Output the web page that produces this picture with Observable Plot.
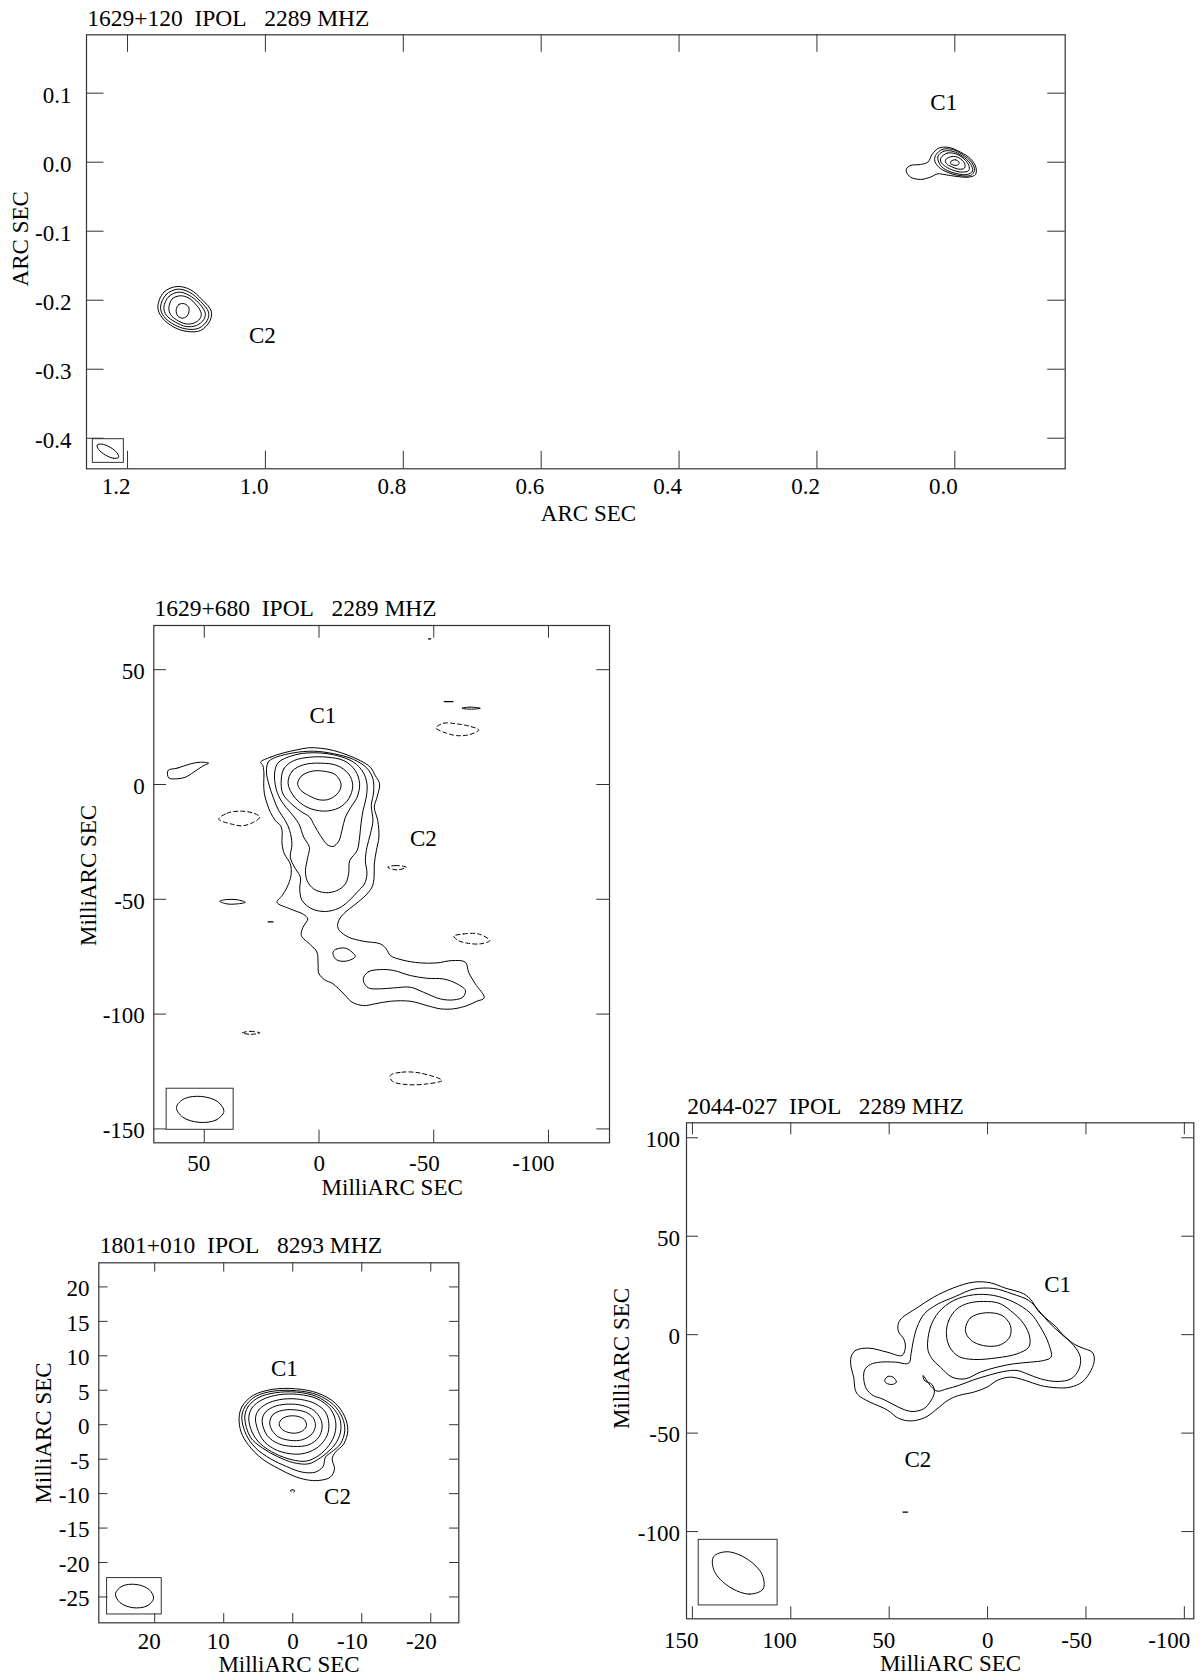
<!DOCTYPE html>
<html>
<head>
<meta charset="utf-8">
<script src="https://cdn.jsdelivr.net/npm/d3@7"></script>
<script src="https://cdn.jsdelivr.net/npm/@observablehq/plot@0.6"></script>
<style>
  body { margin: 0; background: #fff; }
  #page { position: relative; width: 1202px; height: 1680px; overflow: hidden; background: #fff; }
  #page svg { position: absolute; }
</style>
</head>
<body>
<div id="page"></div>
<script>
// ---------- 1629+120 (arcsec) ----------
const a_title = "1629+120\u00a0\u00a0IPOL\u00a0\u00a0\u00a02289 MHZ";
const a_xTicks = [1.2, 1.0, 0.8, 0.6, 0.4, 0.2, 0.0];
const a_yTicks = [0.1, 0.0, -0.1, -0.2, -0.3, -0.4];
const a_labels = [[0.016, 0.087, "C1"], [1.0045, -0.251, "C2"]];
const a_c2 = [
  [[1.1560,-0.2101],[1.1473,-0.1883],[1.1279,-0.1801],[1.1086,-0.1849],[1.0917,-0.1994],[1.0786,-0.2158],[1.0806,-0.2303],[1.0941,-0.2439],[1.1134,-0.2453],[1.1328,-0.2390],[1.1497,-0.2255]],
  [[1.1521,-0.2101],[1.1439,-0.1917],[1.1270,-0.1840],[1.1096,-0.1888],[1.0941,-0.2018],[1.0825,-0.2173],[1.0844,-0.2294],[1.0965,-0.2405],[1.1134,-0.2419],[1.1318,-0.2357],[1.1473,-0.2236]],
  [[1.1473,-0.2101],[1.1400,-0.1946],[1.1255,-0.1883],[1.1110,-0.1927],[1.0965,-0.2043],[1.0873,-0.2183],[1.0893,-0.2279],[1.0999,-0.2366],[1.1149,-0.2381],[1.1304,-0.2318],[1.1439,-0.2216]],
  [[1.1400,-0.2110],[1.1352,-0.1980],[1.1231,-0.1936],[1.1110,-0.1970],[1.1004,-0.2067],[1.0931,-0.2187],[1.0951,-0.2270],[1.1038,-0.2332],[1.1159,-0.2342],[1.1289,-0.2284],[1.1376,-0.2207]],
  [[1.1294,-0.2139],[1.1255,-0.2062],[1.1173,-0.2052],[1.1110,-0.2110],[1.1125,-0.2212],[1.1192,-0.2260],[1.1270,-0.2231]]
];
const a_c1 = [
  [[0.0701,-0.0096],[0.0643,-0.0047],[0.0498,-0.0033],[0.0391,0.0001],[0.0329,0.0112],[0.0232,0.0204],[0.0087,0.0214],[-0.0082,0.0146],[-0.0227,0.0049],[-0.0305,-0.0072],[-0.0300,-0.0178],[-0.0203,-0.0216],[-0.0034,-0.0207],[0.0159,-0.0178],[0.0246,-0.0168],[0.0353,-0.0216],[0.0498,-0.0250],[0.0643,-0.0216],[0.0701,-0.0144]],
  [[0.0280,0.0098],[0.0184,0.0185],[0.0039,0.0185],[-0.0107,0.0112],[-0.0242,0.0001],[-0.0285,-0.0120],[-0.0227,-0.0192],[-0.0058,-0.0192],[0.0111,-0.0144],[0.0232,-0.0072],[0.0290,0.0015]],
  [[0.0246,0.0083],[0.0159,0.0160],[0.0024,0.0156],[-0.0107,0.0088],[-0.0227,-0.0023],[-0.0256,-0.0129],[-0.0179,-0.0178],[-0.0034,-0.0168],[0.0111,-0.0120],[0.0208,-0.0047]],
  [[0.0201,0.0064],[0.0111,0.0131],[-0.0010,0.0122],[-0.0131,0.0049],[-0.0203,-0.0047],[-0.0203,-0.0120],[-0.0107,-0.0144],[0.0014,-0.0120],[0.0135,-0.0062],[0.0201,0.0001]],
  [[0.0135,0.0035],[0.0039,0.0083],[-0.0058,0.0064],[-0.0140,-0.0014],[-0.0140,-0.0086],[-0.0058,-0.0101],[0.0053,-0.0062],[0.0121,-0.0023]],
  [[0.0053,0.0015],[-0.0010,0.0035],[-0.0063,-0.0004],[-0.0049,-0.0038],[0.0014,-0.0043],[0.0063,-0.0018]]
];
const a_beamBox = [1.2503, 1.2053, -0.4014, -0.4357];
const a_beam = [[1.2129,-0.4278],[1.2198,-0.4291],[1.2318,-0.4245],[1.2418,-0.4164],[1.2441,-0.4098],[1.2372,-0.4085],[1.2252,-0.4131],[1.2152,-0.4212]];

// ---------- 1629+680 (mas) ----------
const b_title = "1629+680\u00a0\u00a0IPOL\u00a0\u00a0\u00a02289 MHZ";
const b_xTicks = [50, 0, -50, -100];
const b_yTicks = [50, 0, -50, -100, -150];
const b_labels = [[-1.7, 29.8, "C1"], [-45.5, -23.7, "C2"]];
const b_pos = [
  [[25.5,9.7],[21.2,11.9],[15.4,13.8],[9.6,15.1],[4.5,16.0],[-0.6,15.8],[-6.4,14.8],[-12.2,12.9],[-18.0,10.4],[-22.4,7.5],[-24.5,3.9],[-26.4,0.3],[-25.3,-5.5],[-24.1,-9.9],[-25.6,-15.7],[-26.1,-22.9],[-25.0,-28.8],[-24.1,-34.6],[-24.0,-40.4],[-23.1,-44.7],[-19.5,-49.1],[-15.1,-52.7],[-11.5,-55.6],[-9.0,-58.5],[-8.1,-61.4],[-8.9,-63.6],[-12.9,-66.5],[-19.5,-68.3],[-26.7,-69.4],[-29.3,-71.6],[-31.1,-74.5],[-36.2,-76.4],[-44.1,-77.7],[-51.4,-77.7],[-57.9,-76.7],[-63.8,-77.4],[-65.2,-81.8],[-68.1,-86.8],[-72.0,-92.9],[-68.8,-94.4],[-64.5,-96.3],[-58.7,-97.7],[-52.9,-97.7],[-47.1,-96.3],[-39.8,-94.4],[-31.1,-94.4],[-24.5,-95.5],[-19.5,-96.3],[-14.4,-94.8],[-11.5,-91.9],[-8.6,-89.0],[-5.7,-86.5],[-2.5,-85.1],[0.1,-82.2],[0.4,-78.1],[0.9,-73.0],[3.8,-69.7],[7.7,-65.8],[7.0,-62.2],[4.9,-58.5],[6.7,-56.6],[12.5,-54.2],[18.3,-51.3],[16.1,-48.4],[13.9,-44.7],[12.2,-39.6],[12.5,-34.6],[15.1,-30.2],[16.1,-25.9],[16.1,-20.0],[16.8,-17.9],[19.0,-15.7],[21.2,-12.1],[22.6,-8.4],[23.8,-4.1],[24.1,0.3],[24.0,4.6],[24.5,8.3]],
  [[22.9,5.4],[22.2,9.7],[19.7,11.5],[11.0,13.8],[2.3,14.5],[-6.4,13.4],[-15.1,10.9],[-20.9,7.1],[-23.5,2.5],[-23.8,-3.3],[-22.8,-9.2],[-23.5,-15.7],[-22.4,-21.5],[-20.9,-27.3],[-20.2,-33.1],[-20.9,-38.9],[-19.8,-43.3],[-16.6,-46.9],[-12.9,-50.8],[-8.6,-53.9],[-2.8,-55.3],[3.0,-54.2],[7.4,-50.5],[8.4,-45.5],[8.1,-40.4],[10.7,-36.0],[12.5,-31.7],[11.8,-25.9],[12.8,-20.0],[14.7,-15.7],[17.6,-11.3],[20.0,-5.5],[21.9,0.3]],
  [[19.3,5.4],[17.6,9.7],[9.6,13.1],[0.9,13.8],[-7.8,12.6],[-15.1,9.7],[-19.2,5.4],[-20.9,0.3],[-20.6,-5.5],[-19.2,-11.3],[-18.3,-17.1],[-17.7,-22.9],[-16.6,-28.8],[-13.4,-33.1],[-12.9,-38.9],[-11.5,-43.3],[-7.8,-46.2],[-2.8,-47.1],[2.3,-45.5],[5.2,-41.8],[5.9,-37.5],[4.9,-31.7],[4.2,-27.3],[6.7,-22.9],[8.8,-17.1],[12.5,-12.1],[16.1,-7.7],[18.7,-1.9]],
  [[16.5,0.3],[15.4,6.8],[11.0,10.4],[3.8,11.9],[-3.5,11.9],[-10.8,10.4],[-15.8,6.1],[-17.7,0.3],[-16.6,-5.5],[-13.9,-9.9],[-11.5,-14.2],[-10.0,-20.0],[-8.6,-24.7],[-6.1,-27.0],[-3.5,-26.1],[-0.6,-22.2],[2.0,-17.9],[4.1,-14.2],[8.1,-11.6],[12.8,-7.7],[15.7,-4.1]],
  [[13.5,0.6],[11.7,5.8],[6.7,8.6],[-0.6,9.3],[-7.8,8.3],[-12.9,4.6],[-14.7,-0.4],[-12.9,-6.3],[-8.6,-10.2],[-2.0,-11.6],[5.2,-9.9],[10.7,-5.5]],
  [[9.3,0.6],[7.4,3.9],[3.0,5.8],[-2.0,5.8],[-7.1,4.3],[-9.6,0.3],[-8.6,-3.3],[-4.7,-6.3],[-0.3,-6.7],[4.5,-4.8],[8.1,-2.3]],
  [[-6.1,-73.0],[-7.8,-71.6],[-11.5,-71.3],[-14.4,-73.0],[-15.8,-74.9],[-13.7,-76.4],[-10.0,-77.0],[-7.1,-75.9]],
  [[-19.5,-83.9],[-21.6,-81.5],[-26.7,-80.6],[-32.5,-81.0],[-39.8,-83.2],[-47.1,-84.4],[-54.3,-84.7],[-60.1,-86.8],[-63.8,-89.7],[-62.7,-92.6],[-58.7,-93.8],[-52.9,-93.4],[-45.6,-90.5],[-39.8,-88.3],[-32.5,-88.6],[-26.7,-89.0],[-21.6,-88.6],[-19.5,-86.1]],
  [[65.8,6.1],[61.8,7.1],[56.0,9.0],[51.7,9.7],[48.1,9.3],[50.2,8.3],[54.6,5.4],[58.2,3.2],[61.6,2.5],[65.5,2.9]],
  [[43.3,-50.8],[40.1,-50.1],[35.7,-50.2],[32.1,-51.3],[35.7,-52.0],[40.1,-52.0]],
  [[-62.3,33.2],[-65.9,33.7],[-70.3,33.2],[-65.9,32.8]]
];
const b_bits = [
  [[22.2,-59.8],[20.0,-59.8]],
  [[-54.6,36.1],[-58.4,36.1]],
  [[-47.7,63.4],[-48.7,63.4]]
];
const b_neg = [
  [[43.7,-15.0],[40.1,-12.5],[34.3,-11.6],[28.5,-12.5],[25.8,-14.2],[28.5,-16.4],[33.5,-18.0],[38.6,-17.1],[43.0,-15.7]],
  [[-29.9,-36.0],[-33.3,-35.3],[-38.0,-36.0],[-34.0,-37.2]],
  [[-51.0,24.7],[-54.3,26.7],[-60.1,26.4],[-65.9,25.3],[-69.6,23.8],[-65.9,21.8],[-60.1,21.3],[-54.3,22.8]],
  [[-58.7,-66.1],[-63.0,-65.1],[-69.6,-65.1],[-74.4,-68.0],[-70.3,-69.4],[-64.5,-69.1],[-60.8,-68.0]],
  [[33.5,-108.2],[29.9,-107.5],[25.8,-108.2],[29.9,-108.8]],
  [[-31.1,-126.7],[-36.2,-125.3],[-44.2,-125.7],[-53.6,-128.9],[-47.1,-130.4],[-38.4,-130.7],[-31.9,-129.2]]
];
const b_beamBox = [66.4, 37.2, -132.5, -150.4];
const b_beam = [[41.47,-142.4],[44.85,-146.12],[52.29,-147.14],[59.45,-144.85],[62.13,-140.6],[58.75,-136.88],[51.31,-135.86],[44.15,-138.15]];

// ---------- 1801+010 (mas) ----------
const c_title = "1801+010\u00a0\u00a0IPOL\u00a0\u00a0\u00a08293 MHZ";
const c_xTicks = [20, 10, 0, -10, -20];
const c_yTicks = [20, 15, 10, 5, 0, -5, -10, -15, -20, -25];
const c_labels = [[1.22, 8.12, "C1"], [-6.48, -10.41, "C2"]];
const c_pos = [
  [[7.77,1.01],[7.34,2.65],[5.74,4.25],[2.99,5.12],[-0.39,5.22],[-3.63,4.59],[-6.10,3.18],[-7.50,1.25],[-7.98,-0.83],[-7.40,-2.77],[-6.19,-3.98],[-5.71,-4.94],[-6.05,-6.39],[-5.47,-7.60],[-3.78,-8.09],[-1.99,-7.99],[-0.06,-7.41],[2.02,-6.39],[4.44,-4.94],[6.37,-3.01],[7.48,-1.07]],
  [[7.38,1.01],[6.95,2.56],[5.40,4.10],[2.75,4.88],[-0.54,4.93],[-3.53,4.35],[-5.85,2.94],[-7.16,1.10],[-7.54,-0.83],[-6.92,-2.77],[-5.61,-3.98],[-4.74,-4.70],[-4.40,-6.06],[-3.29,-6.88],[-1.36,-6.88],[0.91,-6.06],[3.23,-4.94],[5.40,-3.35],[6.76,-1.41]],
  [[6.95,1.01],[6.51,2.56],[5.02,3.91],[2.50,4.64],[-0.54,4.73],[-3.44,4.10],[-5.61,2.65],[-6.82,0.86],[-6.92,-1.07],[-6.19,-2.77],[-5.23,-3.83],[-4.02,-4.80],[-2.33,-5.67],[-0.15,-5.52],[2.26,-4.60],[4.44,-3.35],[6.13,-1.80]],
  [[6.37,1.01],[5.89,2.46],[4.44,3.62],[2.02,4.35],[-0.88,4.39],[-3.53,3.77],[-5.37,2.41],[-6.19,0.62],[-6.10,-1.31],[-5.23,-3.01],[-3.78,-4.46],[-1.99,-5.28],[0.09,-5.09],[2.50,-4.22],[4.68,-2.77],[5.89,-1.07]],
  [[5.40,0.86],[4.92,2.17],[3.47,3.18],[1.30,3.72],[-1.12,3.67],[-3.29,3.04],[-4.74,1.83],[-5.23,0.14],[-4.98,-1.56],[-3.78,-3.15],[-1.84,-4.12],[0.33,-4.22],[2.75,-3.49],[4.44,-2.04]],
  [[4.44,0.62],[3.95,1.83],[2.50,2.70],[0.57,2.99],[-1.36,2.80],[-3.05,2.07],[-4.02,0.86],[-4.26,-0.35],[-3.78,-1.80],[-2.33,-2.91],[-0.15,-3.15],[2.02,-2.77],[3.71,-1.56]],
  [[3.33,0.38],[2.84,1.49],[1.54,2.07],[-0.15,2.17],[-1.84,1.83],[-2.95,1.01],[-3.29,-0.11],[-2.81,-1.31],[-1.36,-2.19],[0.33,-2.28],[2.02,-1.80],[2.99,-0.83]],
  [[1.97,0.14],[1.54,0.86],[0.57,1.25],[-0.78,1.20],[-1.70,0.72],[-1.99,-0.11],[-1.51,-0.83],[-0.39,-1.22],[0.81,-1.07],[1.63,-0.59]]
];
const c_neg = [
  [[0.35,-9.55],[0.0,-9.45],[-0.3,-9.6],[0.0,-9.85]]
];
const c_beamBox = [26.90, 18.98, -22.26, -27.54];
const c_beam = [[20.16,-25.21],[21.11,-26.30],[23.13,-26.56],[25.02,-25.82],[25.68,-24.53],[24.73,-23.44],[22.71,-23.18],[20.82,-23.92]];

// ---------- 2044-027 (mas) ----------
const d_title = "2044-027\u00a0\u00a0IPOL\u00a0\u00a0\u00a02289 MHZ";
const d_xTicks = [150, 100, 50, 0, -50, -100];
const d_yTicks = [100, 50, 0, -50, -100];
const d_labels = [[-35.6, 25.5, "C1"], [35.4, -63.5, "C2"]];
const d_pos = [
  [[69.37,-11.41],[67.17,-8.02],[60.39,-6.84],[51.08,-8.87],[43.46,-10.56],[41.76,-6.33],[42.61,-2.10],[45.15,1.29],[45.49,5.01],[43.96,8.06],[35.83,13.64],[27.37,19.06],[17.20,23.80],[7.04,26.68],[-1.43,26.34],[-9.05,23.63],[-18.37,20.75],[-22.60,17.03],[-25.48,12.29],[-29.38,8.57],[-34.97,3.83],[-37.34,0.95],[-43.77,-4.64],[-48.01,-6.67],[-53.09,-8.87],[-54.28,-12.26],[-52.58,-18.18],[-48.01,-24.10],[-42.08,-26.65],[-35.31,-26.99],[-26.84,-25.80],[-19.21,-23.26],[-11.59,-21.57],[-4.82,-23.26],[0.26,-26.65],[7.04,-29.19],[14.66,-30.88],[19.74,-33.08],[25.67,-37.65],[30.75,-41.54],[36.68,-43.58],[41.76,-43.58],[46.34,-41.88],[49.38,-39.34],[52.77,-37.31],[57.85,-35.11],[62.09,-33.08],[65.48,-30.88],[67.17,-28.34],[68.02,-21.57],[69.37,-16.49]],
  [[32.79,-20.72],[32.11,-23.26],[28.21,-25.29],[27.03,-29.19],[28.72,-33.42],[32.45,-37.65],[38.38,-39.01],[43.46,-37.65],[48.54,-35.11],[53.62,-32.57],[58.19,-30.88],[61.58,-27.49],[62.94,-22.41],[62.43,-17.84],[59.55,-15.13],[54.47,-13.95],[46.84,-13.95],[40.07,-14.46],[38.88,-9.72],[37.87,-3.79],[35.83,3.83],[32.11,10.60],[25.67,15.34],[16.36,19.40],[7.04,23.12],[-3.12,23.46],[-12.44,20.75],[-20.91,17.37],[-25.99,12.29],[-31.07,6.36],[-37.34,0.44],[-43.77,-5.49],[-47.16,-11.41],[-46.31,-17.84],[-42.42,-22.41],[-35.31,-23.77],[-26.84,-22.41],[-20.06,-19.88],[-14.98,-18.18],[-8.20,-18.69],[-1.43,-20.38],[7.04,-22.92],[14.66,-25.80],[20.59,-27.49],[25.67,-28.68],[28.72,-26.31]],
  [[30.41,-7.18],[29.06,3.83],[24.82,11.44],[17.20,17.37],[7.04,20.25],[-3.12,19.91],[-13.29,16.52],[-21.75,10.94],[-26.84,3.83],[-31.07,-4.64],[-32.26,-11.41],[-28.53,-13.10],[-21.75,-13.95],[-13.29,-14.80],[-4.82,-16.49],[3.65,-19.03],[11.27,-22.41],[18.05,-21.57],[23.98,-16.49],[28.21,-12.26]],
  [[20.93,0.44],[19.74,7.21],[15.51,13.14],[9.58,16.01],[1.96,16.86],[-5.66,16.01],[-11.59,12.29],[-18.37,5.52],[-21.42,-1.25],[-20.91,-6.33],[-14.98,-9.72],[-4.82,-11.75],[7.04,-12.60],[14.66,-11.07],[19.24,-6.33]],
  [[11.27,2.98],[8.73,8.57],[1.11,11.10],[-7.36,9.75],[-11.59,4.67],[-11.25,-1.25],[-6.51,-5.15],[0.26,-5.82],[7.04,-3.79],[10.43,-0.41]],
  [[52.26,-23.26],[50.74,-21.23],[48.03,-21.57],[46.34,-24.10],[48.54,-25.29],[51.42,-24.61]]
];
const d_bits = [
  [[43.0,-90.1],[40.6,-90.1]]
];
const d_beamBox = [146.8, 106.7, -104.2, -137.5];
const d_beam = [[114.12,-129.17],[121.04,-131.75],[131.27,-128.03],[138.82,-120.20],[139.28,-112.83],[132.36,-110.25],[122.13,-113.97],[114.58,-121.80]];

// ---------- drawing ----------
const INK = "#000";
const FRAME = "#333";
const px = d => d[0], py = d => d[1];

function closedLine(ring, dashed) {
  return Plot.line(ring, {x: px, y: py, curve: "catmull-rom-closed", stroke: INK, strokeWidth: 1,
    strokeDasharray: dashed ? "4,3" : null});
}

function panel(cfg) {
  const [bl, bt, bw, bh] = cfg.box;
  const [fl, ft, fr, fb] = cfg.frame;
  const fw = fr - fl, fh = fb - ft;
  const marks = [
    Plot.frame({stroke: FRAME, strokeWidth: 1.2}),
    Plot.ruleX(cfg.xTicks, {x: d => d, insetTop: fh - cfg.tick, stroke: FRAME}),
    Plot.ruleX(cfg.xTicks, {x: d => d, insetBottom: fh - cfg.tick, stroke: FRAME}),
    Plot.ruleY(cfg.yTicks, {y: d => d, insetRight: fw - cfg.tick, stroke: FRAME}),
    Plot.ruleY(cfg.yTicks, {y: d => d, insetLeft: fw - cfg.tick, stroke: FRAME}),
    Plot.axisX(cfg.xTicks, {anchor: "bottom", tickSize: 0, tickPadding: cfg.xPad, tickFormat: cfg.fmt,
      textAnchor: "end", dx: cfg.xDx, label: null, fill: INK}),
    Plot.axisY(cfg.yTicks, {anchor: "left", tickSize: 0, tickPadding: cfg.yPad, tickFormat: cfg.fmt,
      dy: 2, label: null, fill: INK}),
    ...cfg.pos.map(r => closedLine(r, false)),
    ...(cfg.neg || []).map(r => closedLine(r, true)),
    ...(cfg.bits || []).map(r => Plot.line(r, {x: px, y: py, stroke: INK, strokeWidth: 1.2})),
    Plot.rect([cfg.beamBox], {x1: d => d[0], x2: d => d[1], y1: d => d[2], y2: d => d[3], fill: "none", stroke: FRAME}),
    closedLine(cfg.beam, false),
    Plot.text(cfg.labels, {x: px, y: py, text: d => d[2], lineAnchor: "middle", fill: INK}),
    Plot.text([cfg.title], {frameAnchor: "top-left", textAnchor: "start", lineAnchor: "bottom",
      dx: cfg.titleDx, dy: cfg.titleDy, fontSize: 23.5, fill: INK}),
    Plot.text([cfg.xLabel], {frameAnchor: "bottom", lineAnchor: "bottom", dx: cfg.xLabelDx, dy: cfg.xLabelDy, fill: INK}),
    Plot.text([cfg.yLabel], {frameAnchor: "left", rotate: -90, lineAnchor: "bottom", textAnchor: "middle",
      dx: cfg.yLabelDx, dy: cfg.yLabelDy, fill: INK})
  ];
  const svg = Plot.plot({
    width: bw, height: bh,
    marginLeft: fl - bl, marginTop: ft - bt, marginRight: bl + bw - fr, marginBottom: bt + bh - fb,
    x: {domain: cfg.xDomain},
    y: {domain: cfg.yDomain},
    style: {fontFamily: "'Liberation Serif', 'Times New Roman', Times, serif", fontSize: "23px",
      background: "transparent", color: INK, overflow: "visible"},
    marks
  });
  svg.style.left = bl + "px";
  svg.style.top = bt + "px";
  document.getElementById("page").appendChild(svg);
}

const fmt1 = d => d.toFixed(1);
const fmt0 = d => String(d);

panel({
  box: [0, 0, 1202, 540], frame: [86, 34.3, 1064.7, 468.3],
  xDomain: [1.2595, -0.1601], yDomain: [-0.4443, 0.1846],
  xTicks: a_xTicks, yTicks: a_yTicks, fmt: fmt1, tick: 17.5,
  xPad: 8.7, xDx: 3, yPad: 15,
  pos: [...a_c2, ...a_c1], beamBox: a_beamBox, beam: a_beam, labels: a_labels,
  title: a_title, titleDx: 0.7, titleDy: -8.6,
  xLabel: "ARC SEC", xLabelDx: 12.6, xLabelDy: 51.7,
  yLabel: "ARC SEC", yLabelDx: -58.7, yLabelDy: -13
});

panel({
  box: [0, 590, 630, 610], frame: [153.3, 625, 609, 1142.3],
  xDomain: [72.0, -126.6], yDomain: [-156.05, 69.25],
  xTicks: b_xTicks, yTicks: b_yTicks, fmt: fmt0, tick: 12.7,
  xPad: 11.4, xDx: 6, yPad: 9,
  pos: b_pos, neg: b_neg, bits: b_bits, beamBox: b_beamBox, beam: b_beam, labels: b_labels,
  title: b_title, titleDx: 0.7, titleDy: -9.3,
  xLabel: "MilliARC SEC", xLabelDx: 10.5, xLabelDy: 51.7,
  yLabel: "MilliARC SEC", yLabelDx: -57.8, yLabelDy: -8.7
});

panel({
  box: [0, 1210, 520, 470], frame: [98.3, 1262.3, 458.3, 1622.3],
  xDomain: [28.1, -24.06], yDomain: [-28.75, 23.5],
  xTicks: c_xTicks, yTicks: c_yTicks, fmt: fmt0, tick: 9.2,
  xPad: 9.7, xDx: 6, yPad: 9.3,
  pos: c_pos, neg: c_neg, beamBox: c_beamBox, beam: c_beam, labels: c_labels,
  title: c_title, titleDx: 1, titleDy: -10,
  xLabel: "MilliARC SEC", xLabelDx: 10.2, xLabelDy: 49.4,
  yLabel: "MilliARC SEC", yLabelDx: -48.3, yLabelDy: -9.8
});

panel({
  box: [580, 1080, 622, 600], frame: [686, 1122.3, 1193.3, 1618.3],
  xDomain: [153.0, -104.8], yDomain: [-144.3, 107.6],
  xTicks: d_xTicks, yTicks: d_yTicks, fmt: fmt0, tick: 12,
  xPad: 12.7, xDx: 6, yPad: 6.5,
  pos: d_pos, bits: d_bits, beamBox: d_beamBox, beam: d_beam, labels: d_labels,
  title: d_title, titleDx: 0.7, titleDy: -9,
  xLabel: "MilliARC SEC", xLabelDx: 10.35, xLabelDy: 51.7,
  yLabel: "MilliARC SEC", yLabelDx: -58, yLabelDy: -12.3
});
</script>
</body>
</html>
